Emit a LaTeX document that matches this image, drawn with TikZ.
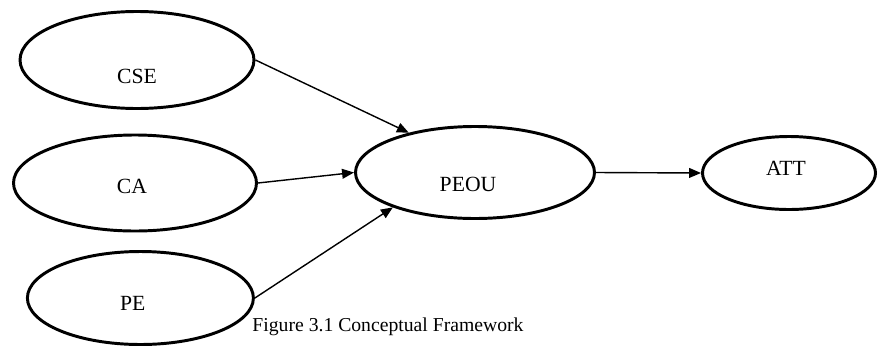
\documentclass[tikz,border=0pt]{standalone}
\usepackage{fontspec}
\setmainfont{Liberation Serif}
\usetikzlibrary{shapes.geometric,arrows.meta}
\tikzset{
    oval/.style = {draw, ellipse, line width=2.1pt, inner sep=0},
    link/.style = {-{Triangle[length=8.5pt,width=7pt]}, line width=1pt},
    font={\fontsize{15.4pt}{18}\selectfont},
}
\begin{document}
\begin{tikzpicture}
        \useasboundingbox (0, 0) rectangle (21.95, 8.675);

        \node [oval, minimum width=5.85cm, minimum height=2.425cm,
               label={[yshift=-0.4cm]center:CSE}] (cse) at (3.425, 7.175) {};
        \node [oval, minimum width=6.075cm, minimum height=2.4cm,
               label={[xshift=-0.075cm, yshift=-0.09cm]center:CA}] (ca) at (3.375, 4.1) {};
        \node [oval, minimum width=5.65cm, minimum height=2.325cm,
               label={[xshift=-0.19cm, yshift=-0.125cm]center:PE}] (pe) at (3.51, 1.225) {};
        \node [oval, minimum width=5.975cm, minimum height=2.3cm,
               label={[xshift=-0.175cm, yshift=-0.31cm]center:PEOU}] (peou) at (11.875, 4.3625) {};
        \node [oval, minimum width=4.325cm, minimum height=1.825cm,
               label={[xshift=-0.075cm, yshift=0.125cm]center:ATT}] (att) at (19.725, 4.35) {};

        \draw [link] (cse.east) -- (peou.149);
        \draw [link] (ca.east) -- (peou.west);
        \draw [link] (pe.east) -- (peou.203);
        \draw [link] (peou.east) -- (att.west);

        \node [font={\fontsize{14pt}{17}\selectfont}] (caption) at (9.7, 0.5) {Figure 3.1 Conceptual Framework};
      \end{tikzpicture}
\end{document}
